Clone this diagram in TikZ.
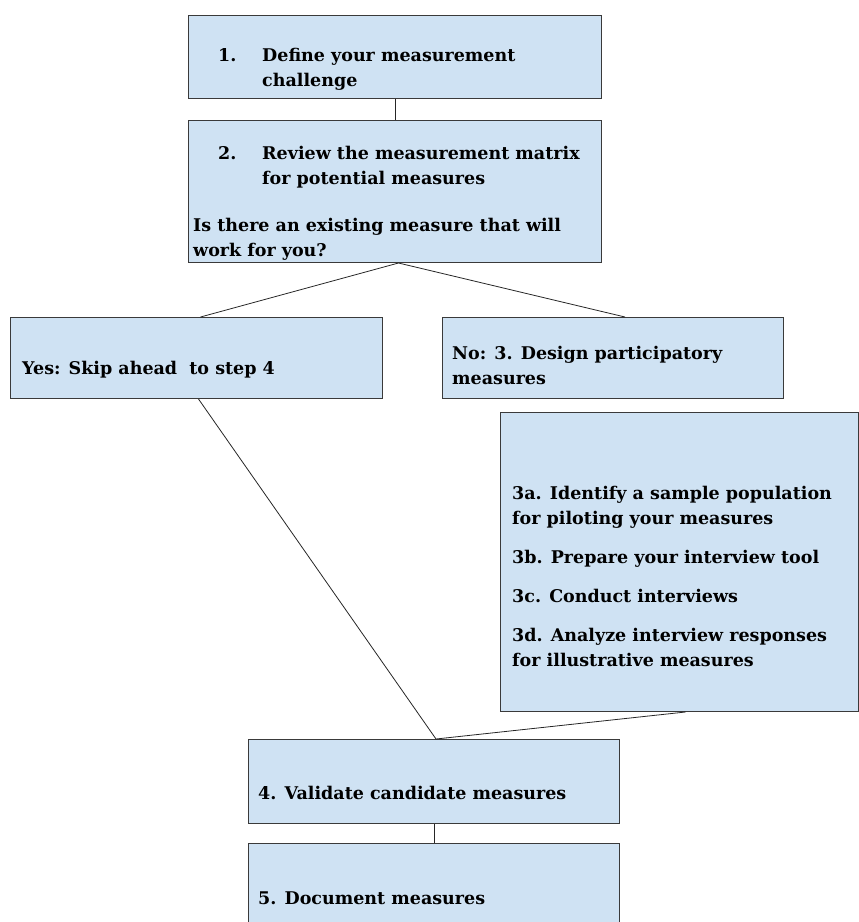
\documentclass[tikz,border=0pt]{standalone}
\usepackage{fontspec}
\setmainfont{DejaVu Serif}
\usetikzlibrary{positioning}
\definecolor{stepblue}{HTML}{CFE2F3}
\definecolor{stepline}{HTML}{3A3A3A}

\begin{document}
\begin{tikzpicture}[x=1pt, y=-1pt,
        box/.style={rectangle, draw=stepline, line width=1pt, fill=stepblue, anchor=north west, inner sep=0pt},
        txt/.style={anchor=base west, align=left, inner sep=0pt, font=\fontsize{17.5}{25}\selectfont\bfseries},
        link/.style={draw=black!85, line width=0.8pt}
    ]
    \useasboundingbox (0,0) rectangle (859,922);

    % Step 1
    \node[box, minimum width=413pt, minimum height=83pt] (step1) at (188,15) {};
    \node[txt] (num1) at (218,61) {1.};
    \node[txt] (text1) at (262,86) {Define your measurement\\challenge};

    % Step 2 - question
    \node[box, minimum width=413pt, minimum height=142pt] (step2) at (188,120) {};
    \node[txt] (num2) at (218,159) {2.};
    \node[txt] (text2) at (262,184) {Review the measurement matrix\\for potential measures};
    \node[txt] (ask) at (193,256) {Is there an existing measure that will\\work for you?};

    % Yes / No
    \node[box, minimum width=372pt, minimum height=81pt] (yes) at (10,317) {};
    \node[txt] (yestext) at (22,374) {Yes: Skip ahead\ \ to step 4};
    \node[box, minimum width=341pt, minimum height=81pt] (no) at (442,317) {};
    \node[txt] (notext) at (452,384) {No: 3. Design participatory\\measures};

    % Sub-steps 3a-3d
    \node[box, minimum width=358pt, minimum height=299pt] (sub3) at (500,412) {};
    \node[txt] (subtext) at (512,666) {3a. Identify a sample population\\for piloting your measures\\[14pt]
        3b. Prepare your interview tool\\[14pt]
        3c. Conduct interviews\\[14pt]
        3d. Analyze interview responses\\for illustrative measures};

    % Steps 4 and 5
    \node[box, minimum width=371pt, minimum height=84pt] (step4) at (248,739) {};
    \node[txt] (text4) at (258,799) {4. Validate candidate measures};
    \node[box, minimum width=371pt, minimum height=90pt] (step5) at (248,843) {};
    \node[txt] (text5) at (258,904) {5. Document measures};

    % Connectors
    \draw[link] (step1.south) -- (step2.north);
    \draw[link] ([xshift=3.5pt]step2.south) -- ([xshift=4pt]yes.north);
    \draw[link] ([xshift=3.5pt]step2.south) -- ([xshift=12pt]no.north);
    \draw[link] ([xshift=2pt]yes.south) -- ([xshift=2pt]step4.north);
    \draw[link] ([xshift=6pt]sub3.south) -- ([xshift=2pt]step4.north);
    \draw[link] (step4.south) -- (step5.north);

\end{tikzpicture}
\end{document}
